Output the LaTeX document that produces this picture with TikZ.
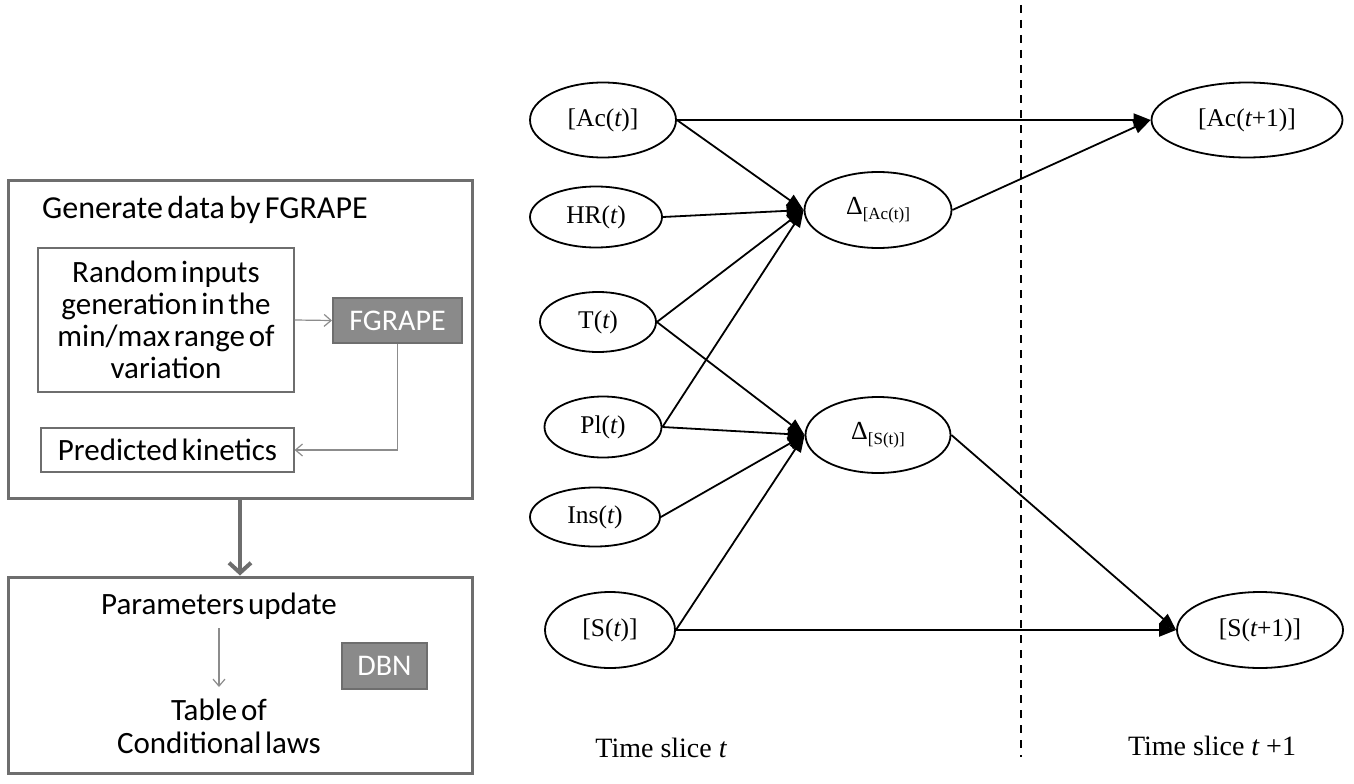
\documentclass[tikz,border=0pt]{standalone}
\usepackage{fontspec}
\setmainfont{Liberation Serif}
\newfontfamily\calfont{Carlito}
\usetikzlibrary{arrows.meta,shapes.geometric}
\definecolor{boxgray}{HTML}{6E6E6E}
\definecolor{fillgray}{HTML}{8A8A8A}
\definecolor{thingray}{HTML}{8C8C8C}
\newcommand{\calA}{\calfont\fontsize{31}{32}\selectfont\spaceskip=0.12em plus 0.05em minus 0.02em\relax}
\newcommand{\calB}{\calfont\fontsize{31}{33}\selectfont\spaceskip=0.12em plus 0.05em minus 0.02em\relax}
\newcommand{\calC}{\calfont\fontsize{32}{32}\selectfont\spaceskip=0.14em plus 0.05em minus 0.02em\relax}
\begin{document}
\begin{tikzpicture}[x=1pt,y=-1pt,
  outerbox/.style={draw=boxgray,line width=3pt,inner sep=0pt},
  innerbox/.style={draw=boxgray,line width=1.2pt,inner sep=0pt,align=center,
     font={\calA}},
  graybox/.style={draw=boxgray,fill=fillgray,line width=2pt,inner sep=0pt,
     text=white,font={\calfont\fontsize{30}{32}\selectfont}},
  caltext/.style={inner sep=0pt,align=center,font={\calA}},
  thinarrow/.style={draw=thingray,line width=1.2pt,-{Straight Barb[length=7pt,width=12pt]}},
  var/.style={draw=black,line width=1.8pt,ellipse,inner sep=0pt,
     font={\fontsize{25.5}{28}\selectfont}},
  edge/.style={draw=black,line width=1.8pt,-{Triangle[length=17pt,width=13pt]}},
  slice/.style={inner sep=0pt,font={\fontsize{28}{30}\selectfont}}
]
\useasboundingbox (0,0) rectangle (1354,784);

% ---------- left panel ----------
\node[outerbox,minimum width=464pt,minimum height=318pt] (box1) at (240,339) {};
\node[outerbox,minimum width=464pt,minimum height=196pt] (box2) at (240,675) {};
\node[caltext,anchor=west,font={\calC}] (gen) at (42,210) {Generate data by FGRAPE};
\node[innerbox,minimum width=256pt,minimum height=144pt] (rand) at (166,320)
  {Random inputs\\generation in the\\min/max range of\\variation};
\node[graybox,minimum width=129pt,minimum height=45pt] (fg) at (397.5,320.5) {FGRAPE};
\node[innerbox,minimum width=253pt,minimum height=44pt] (pk) at (167.5,450) {Predicted kinetics};
\draw[thinarrow] (rand.east) -- (fg.west);
\draw[thinarrow] (fg.south) |- (pk.east);

\draw[draw=boxgray,line width=4pt,-{Straight Barb[length=10pt,width=22pt,line width=4pt]}]
  (box1.south) -- (box2.north);

\node[caltext] (pu) at (219,606) {Parameters update};
\node[caltext,font={\calB}] (tab) at (219,726) {Table of\\Conditional laws};
\draw[thinarrow] (219,628) -- (219,687);
\node[graybox,minimum width=85pt,minimum height=46pt] (dbn) at (384.5,666) {DBN};

% ---------- right panel ----------
\draw[black,line width=2pt,dash pattern=on 8pt off 7pt] (1021,5) -- (1021,757);

\node[var,minimum width=146pt,minimum height=75pt] (ac) at (603,120) {[Ac({\itshape t})]};
\node[var,minimum width=132pt,minimum height=61pt] (hr) at (596,217) {HR({\itshape t})};
\node[var,minimum width=116pt,minimum height=60pt] (tt) at (598,322) {T({\itshape t})};
\node[var,minimum width=117pt,minimum height=61pt] (pl) at (603,427) {Pl({\itshape t})};
\node[var,minimum width=130pt,minimum height=59pt] (ins) at (595,517) {Ins({\itshape t})};
\node[var,minimum width=130pt,minimum height=76pt] (st) at (610,630) {[S({\itshape t})]};

\node[var,minimum width=147pt,minimum height=76pt] (dac) at (878,210)
  {\fontsize{26}{28}\selectfont Δ\raisebox{-0.45ex}{\fontsize{17}{17}\selectfont[Ac(t)]}};
\node[var,minimum width=145pt,minimum height=76pt] (dst) at (878,435)
  {\fontsize{26}{28}\selectfont Δ\raisebox{-0.45ex}{\fontsize{17}{17}\selectfont[S(t)]}};

\node[var,minimum width=191pt,minimum height=75pt] (ac1) at (1247,120) {[Ac({\itshape t}+1)]};
\node[var,minimum width=166pt,minimum height=76pt] (st1) at (1260,630) {[S({\itshape t}+1)]};

\draw[edge] (ac.east) -- (ac1.west);
\draw[edge] (ac.east) -- (dac.west);
\draw[edge] (hr.east) -- (dac.west);
\draw[edge] (tt.east) -- (dac.west);
\draw[edge] (pl.east) -- (dac.west);
\draw[edge] (tt.east) -- (dst.west);
\draw[edge] (pl.east) -- (dst.west);
\draw[edge] (ins.east) -- (dst.west);
\draw[edge] (st.east) -- (dst.west);
\draw[edge] (dac.east) -- (ac1.west);
\draw[edge] (dst.east) -- (st1.west);
\draw[edge] (st.east) -- (st1.west);

\node[slice] (ts1) at (661,748) {Time slice {\itshape t}};
\node[slice] (ts2) at (1212,746) {Time slice {\itshape t} +1};
\end{tikzpicture}
\end{document}
